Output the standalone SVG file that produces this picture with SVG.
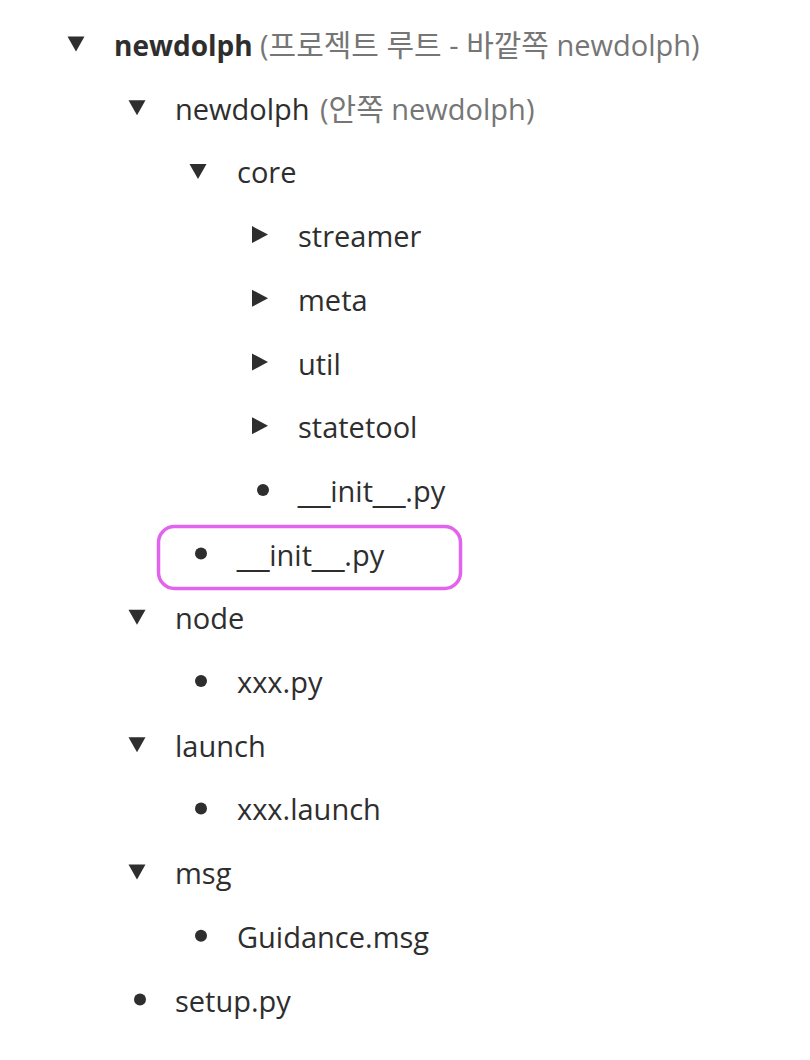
<svg xmlns="http://www.w3.org/2000/svg" width="810" height="1060" viewBox="0 0 810 1060">
<style>
text{font-family:"Open Sans","Noto Sans CJK KR",sans-serif;font-size:29px;fill:#2e2e2e}
.b{font-weight:700;font-size:28px}
.g{fill:#767676}
.k{font-size:30px}
.u{font-family:"Liberation Sans",sans-serif}
.tri{fill:#2e2e2e}
</style>
<defs>
<polygon id="down" points="-8.5,-19.5 8.5,-19.5 0,-4.5" class="tri"/>
<polygon id="right" points="-8,-21 8,-12.5 -8,-4" class="tri"/>
<circle id="dot" r="6" cx="0" cy="-12" fill="#2e2e2e"/>
</defs>
<rect width="810" height="1060" fill="#fff"/>
<g id="connectors"></g>
<g id="n-root"><use href="#down" x="76" y="56"/><text class="b" x="114" y="56">newdolph</text><text class="g" x="260" y="56">(<tspan class="k">프로젝트</tspan> <tspan class="k">루트</tspan> - <tspan class="k">바깥쪽</tspan> newdolph)</text></g>
<g id="n-inner"><use href="#down" x="137" y="119.7"/><text x="175" y="119.7">newdolph</text><text class="g" x="320" y="119.7">(<tspan class="k">안쪽</tspan> newdolph)</text></g>
<g id="n-core"><use href="#down" x="198" y="183.4"/><text x="237" y="183.4">core</text></g>
<g id="n-streamer"><use href="#right" x="260" y="247.1"/><text x="298" y="247.1">streamer</text></g>
<g id="n-meta"><use href="#right" x="260" y="310.8"/><text x="298" y="310.8">meta</text></g>
<g id="n-util"><use href="#right" x="260" y="374.5"/><text x="298" y="374.5">util</text></g>
<g id="n-statetool"><use href="#right" x="260" y="438.2"/><text x="298" y="438.2">statetool</text></g>
<g id="n-init-core"><use href="#dot" x="263" y="501.9"/><text x="298" y="501.9"><tspan class="u">__</tspan>init<tspan class="u">__</tspan>.py</text></g>
<g id="n-init-inner"><rect x="158.5" y="526.5" width="302" height="62" rx="16" fill="none" stroke="#e263ec" stroke-width="3.5"/><use href="#dot" x="201" y="565.6"/><text x="237" y="565.6"><tspan class="u">__</tspan>init<tspan class="u">__</tspan>.py</text></g>
<g id="n-node"><use href="#down" x="137" y="629.3"/><text x="175" y="629.3">node</text></g>
<g id="n-xxxpy"><use href="#dot" x="201" y="693"/><text x="237" y="693">xxx.py</text></g>
<g id="n-launch"><use href="#down" x="137" y="756.7"/><text x="175" y="756.7">launch</text></g>
<g id="n-xxxlaunch"><use href="#dot" x="201" y="820.4"/><text x="237" y="820.4">xxx.launch</text></g>
<g id="n-msg"><use href="#down" x="137" y="884.1"/><text x="175" y="884.1">msg</text></g>
<g id="n-guidance"><use href="#dot" x="201" y="947.8"/><text x="237" y="947.8">Guidance.msg</text></g>
<g id="n-setup"><use href="#dot" x="140" y="1011.5"/><text x="175" y="1011.5">setup.py</text></g>
</svg>
